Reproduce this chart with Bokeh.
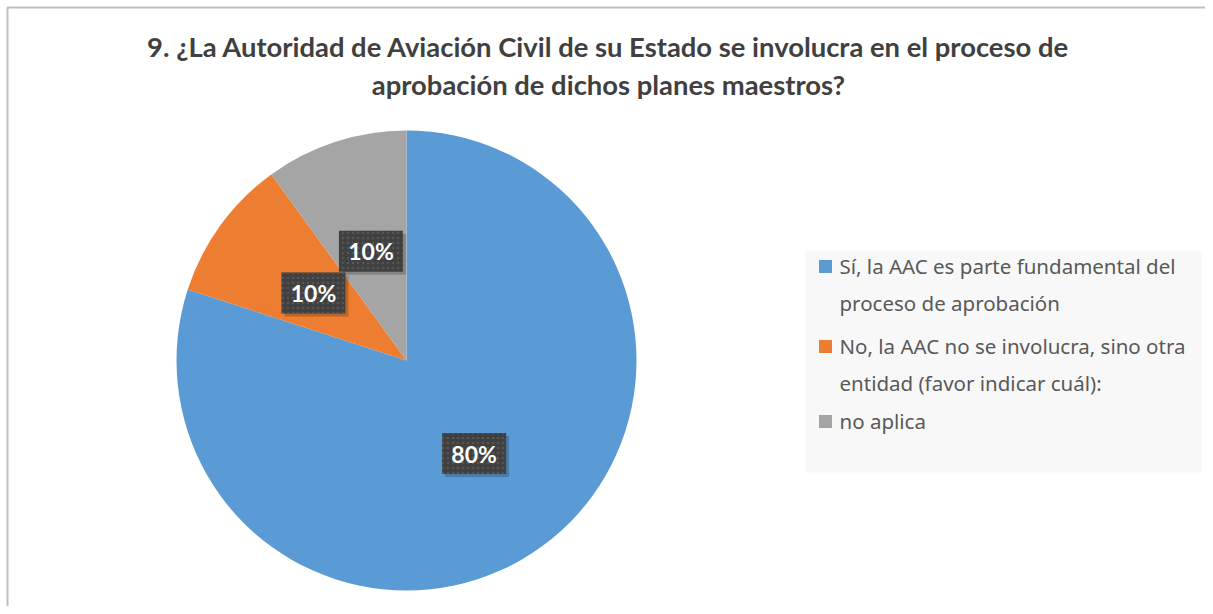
import math
from bokeh.plotting import figure
from bokeh.models import Range1d, ColumnDataSource
from bokeh.core.properties import value
from bokeh.embed import file_html
from bokeh.resources import INLINE

# ---- data ----
categories = ["Sí, la AAC es parte fundamental del proceso de aprobación",
              "No, la AAC no se involucra, sino otra entidad (favor indicar cuál):",
              "no aplica"]
legend_lines = [["Sí, la AAC es parte fundamental del", "proceso de aprobación"],
                ["No, la AAC no se involucra, sino otra", "entidad (favor indicar cuál):"],
                ["no aplica"]]
values = [80, 10, 10]
colors = ["#5B9BD5", "#ED7D31", "#A5A5A5"]
title_lines = ["9. ¿La Autoridad de Aviación Civil de su Estado se involucra en el proceso de",
               "aprobación de dichos planes maestros?"]

W, H = 1205, 606
p = figure(width=W, height=H, x_range=Range1d(0, W), y_range=Range1d(0, H),
           output_backend="svg", toolbar_location=None, min_border=0,
           background_fill_color="white", border_fill_color="white")
p.axis.visible = False
p.grid.visible = False
p.outline_line_color = None

def sx(x):
    return x

def sy(y):
    return H - y

# chart border (left and top)
p.line([sx(7), sx(7), W], [0, sy(7), sy(7)], line_color="#BFBFBF", line_width=2)

# ---- pie ----
cx, cy, r = sx(406), sy(360), 230
total = sum(values)
starts, ends, mids = [], [], []
a = 90.0
for v in values:
    sweep = 360.0 * v / total
    end = a
    start = a - sweep
    starts.append(math.radians(start))
    ends.append(math.radians(end))
    mids.append(math.radians((start + end) / 2))
    a = start
src = ColumnDataSource(dict(start=starts, end=ends, color=colors))
p.wedge(x=cx, y=cy, radius=r, start_angle="start", end_angle="end",
        fill_color="color", line_color=None, source=src)

# ---- data labels ----
lx = [cx + 0.5 * r * math.cos(m) for m in mids]
ly = [cy + 0.5 * r * math.sin(m) for m in mids]
labels = [f"{v}%" for v in values]
p.rect(x=[x + 3 for x in lx], y=[y - 3 for y in ly], width=64, height=41,
       fill_color="black", fill_alpha=0.2, line_color=None)
p.rect(x=lx, y=ly, width=64, height=41, fill_color="#404040", line_color=None,
       hatch_pattern="dot", hatch_color="#555555", hatch_scale=5, hatch_weight=1.5)
p.text(x=lx, y=ly, text=labels, text_align="center", text_baseline="middle",
       text_font=value("Lato"), text_font_style="bold", text_font_size="23px",
       text_color="white")

# ---- title ----
p.text(x=[sx(608), sx(608)], y=[sy(46), sy(84)], text=title_lines,
       text_align="center", text_baseline="middle",
       text_font=value("Lato"), text_font_style="bold", text_font_size="27.4px",
       text_color="#404040")

# ---- legend ----
p.quad(left=sx(805), right=sx(1201), top=sy(250), bottom=sy(472),
       fill_color="#F8F8F8", line_color=None)
item_y = [265, 345, 420]
for i, lines in enumerate(legend_lines):
    yy = item_y[i]
    p.rect(x=sx(825), y=sy(yy + 1), width=13, height=13, fill_color=colors[i], line_color=None)
    p.text(x=[sx(839)] * len(lines), y=[sy(yy + 37 * k) for k in range(len(lines))],
           text=lines, text_align="left", text_baseline="middle",
           text_font=value("Noto Sans"), text_font_size="20.5px", text_color="#595959")

open("out.html", "w").write(file_html(p, INLINE))
